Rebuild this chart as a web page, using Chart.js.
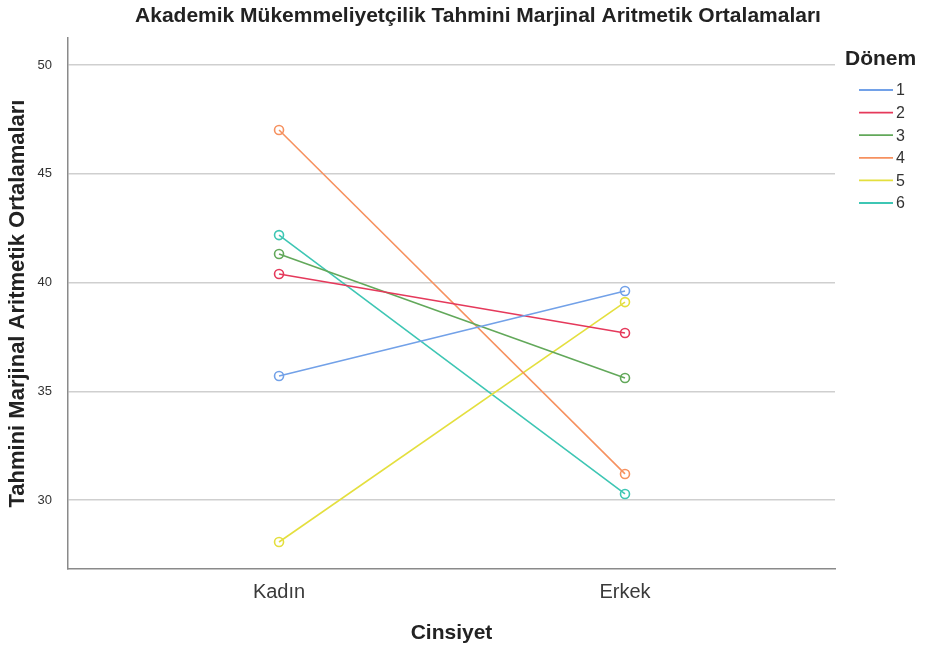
<!DOCTYPE html>
<html>
<head>
<meta charset="utf-8">
<script src="https://cdn.jsdelivr.net/npm/chart.js@4"></script>
<style>
  html, body { margin: 0; padding: 0; background: #fff; }
  #wrap { width: 929px; height: 649px; }
</style>
</head>
<body>
<div id="wrap"><canvas id="grafik" width="929" height="649"></canvas></div>
<script>
// ---- Veri ----
const kategoriler = ["Kadın", "Erkek"];
const donemler = ["1", "2", "3", "4", "5", "6"];
const kadin = [35.70, 40.39, 41.31, 47.01, 28.07, 42.18];
const erkek = [39.61, 37.68, 35.61, 31.20, 39.10, 30.28];
const yTikler = [30, 35, 40, 45, 50];
const renkler = ["#72a1e8", "#e5395b", "#62a85a", "#f6915f", "#e4df3e", "#3ec6b4"];

const baslik = "Akademik Mükemmeliyetçilik Tahmini Marjinal Aritmetik Ortalamaları";
const yBaslik = "Tahmini Marjinal Aritmetik Ortalamaları";
const xBaslik = "Cinsiyet";
const legendBaslik = "Dönem";

const FONT = "'Liberation Sans', Arial, sans-serif";

const datasets = donemler.map((d, i) => ({
  label: d,
  data: [kadin[i], erkek[i]].map((v, k) => ({ x: k, y: v })),
  borderColor: renkler[i],
  backgroundColor: "transparent",
  borderWidth: 1.6,
  pointRadius: 4.5,
  pointBorderWidth: 1.6,
  pointBackgroundColor: "transparent",
  pointBorderColor: renkler[i],
  tension: 0,
}));

// baslik ve lejant
const yaziEklentisi = {
  id: "yazilar",
  afterDraw(chart) {
    const ctx = chart.ctx;
    ctx.save();
    ctx.fillStyle = "#222";
    ctx.font = "bold 21px " + FONT;
    ctx.textAlign = "center";
    ctx.textBaseline = "middle";
    ctx.fillText(baslik, 478, 16);

    ctx.textAlign = "left";
    ctx.fillText(legendBaslik, 845, 59);
    ctx.font = "16px " + FONT;
    ctx.fillStyle = "#333";
    chart.data.datasets.forEach((ds, i) => {
      const y = 90 + i * 22.6;
      ctx.strokeStyle = ds.borderColor;
      ctx.lineWidth = 1.8;
      ctx.beginPath();
      ctx.moveTo(859, y);
      ctx.lineTo(893, y);
      ctx.stroke();
      ctx.fillText(ds.label, 896, y + 1);
    });
    ctx.restore();
  },
};

new Chart(document.getElementById("grafik"), {
  type: "line",
  data: { datasets },
  plugins: [yaziEklentisi],
  options: {
    responsive: false,
    animation: false,
    layout: { padding: { top: 38, right: 94, left: 0, bottom: 0 } },
    plugins: {
      legend: { display: false },
      title: { display: false },
      tooltip: { enabled: false },
    },
    scales: {
      x: {
        type: "linear",
        min: -0.61,
        max: 1.607,
        afterBuildTicks: (s) => { s.ticks = kategoriler.map((_, i) => ({ value: i })); },
        afterFit: (s) => { s.height = 80; },
        grid: { display: false, drawTicks: false },
        border: { color: "#8a8a8a", width: 1.5 },
        ticks: {
          callback: (v) => kategoriler[v],
          font: { family: FONT, size: 20 },
          color: "#3a3a3a",
          padding: 11,
          maxRotation: 0,
        },
        title: {
          display: true,
          text: xBaslik,
          font: { family: FONT, size: 21, weight: "bold" },
          color: "#222",
          padding: { top: 0, bottom: 3 },
        },
      },
      y: {
        min: 26.83,
        max: 51.24,
        afterBuildTicks: (s) => { s.ticks = yTikler.map((v) => ({ value: v })); },
        afterFit: (s) => { s.width = 68; },
        grid: { color: "#cfcfcf", lineWidth: 1.5, drawTicks: false },
        border: { color: "#8a8a8a", width: 1.5 },
        ticks: {
          font: { family: FONT, size: 13 },
          color: "#333",
          padding: 16,
        },
        title: {
          display: true,
          text: yBaslik,
          font: { family: FONT, size: 22, weight: "bold" },
          color: "#222",
          padding: { top: 5, bottom: 0 },
        },
      },
    },
  },
});
</script>
</body>
</html>
